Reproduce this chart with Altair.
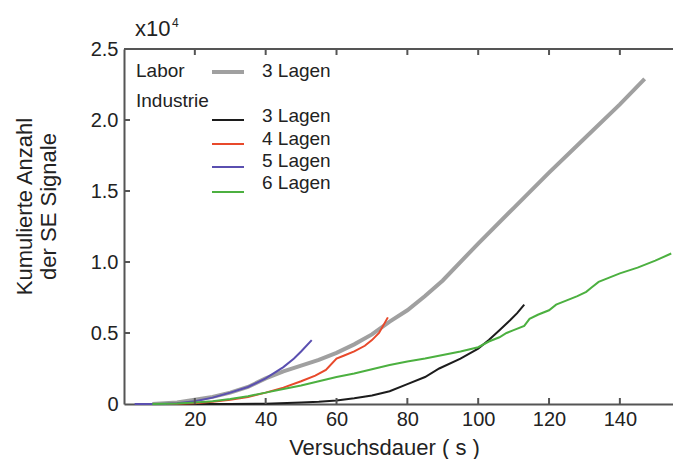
import altair as alt
import pandas as pd

# ---- data (values in units of 10^4) ----
labor3_x = [8, 15, 20, 25, 30, 35, 40, 45, 50, 55, 60, 65, 70, 75, 80, 85, 90, 100, 110, 120, 130, 140, 147]
labor3_y = [0, 0.01, 0.03, 0.05, 0.08, 0.12, 0.18, 0.23, 0.27, 0.31, 0.36, 0.42, 0.49, 0.58, 0.66, 0.76, 0.87, 1.13, 1.38, 1.63, 1.87, 2.11, 2.29]

ind3_x = [12, 20, 30, 40, 50, 55, 60, 65, 70, 75, 80, 85, 89, 95, 100, 103, 106, 109, 111, 113]
ind3_y = [0, 0, 0, 0.002, 0.01, 0.015, 0.025, 0.04, 0.06, 0.09, 0.14, 0.19, 0.25, 0.32, 0.39, 0.45, 0.52, 0.59, 0.64, 0.70]

ind4_x = [12, 20, 25, 30, 35, 40, 45, 50, 54, 57, 60, 62, 65, 68, 70, 72, 74.5]
ind4_y = [0, 0.005, 0.015, 0.03, 0.05, 0.08, 0.115, 0.16, 0.2, 0.24, 0.32, 0.34, 0.37, 0.41, 0.45, 0.5, 0.61]

ind5_x = [3, 10, 15, 20, 25, 30, 35, 40, 45, 48, 50, 53]
ind5_y = [0, 0, 0.005, 0.02, 0.045, 0.08, 0.12, 0.18, 0.26, 0.32, 0.37, 0.45]

ind6_x = [8, 15, 20, 25, 30, 35, 40, 45, 50, 55, 60, 65, 70, 75, 80, 85, 90, 95, 100, 103, 106, 108, 110, 113,
          114.5, 117, 120, 122, 125, 128, 130.5, 132, 134, 137, 140, 145, 150, 154.5]
ind6_y = [0, 0.003, 0.01, 0.02, 0.035, 0.055, 0.08, 0.105, 0.13, 0.16, 0.19, 0.215, 0.245, 0.275, 0.30, 0.32, 0.345,
          0.37, 0.40, 0.44, 0.47, 0.50, 0.52, 0.55, 0.60, 0.63, 0.66, 0.70, 0.73, 0.76, 0.79, 0.82, 0.86, 0.89, 0.92,
          0.96, 1.01, 1.06]

series_names = ["Labor 3 Lagen", "Industrie 3 Lagen", "Industrie 4 Lagen", "Industrie 5 Lagen", "Industrie 6 Lagen"]
series_colors = ["#a0a0a0", "#1c1c1c", "#e8492b", "#5a4fb0", "#4cb040"]

x_ticks = [20, 40, 60, 80, 100, 120, 140]
y_ticks = [0, 0.5, 1.0, 1.5, 2.0, 2.5]
y_inner_ticks = [0.5, 1.0, 1.5, 2.0]

legend_labels = ["3 Lagen", "3 Lagen", "4 Lagen", "5 Lagen", "6 Lagen"]

FONT = "Liberation Sans"
W, H = 549, 355
AX = "#555555"
TXT = "#222222"

rows = []
for name, xs, ys in zip(series_names,
                        [labor3_x, ind3_x, ind4_x, ind5_x, ind6_x],
                        [labor3_y, ind3_y, ind4_y, ind5_y, ind6_y]):
    for i, (a, b) in enumerate(zip(xs, ys)):
        rows.append({"series": name, "t": a, "n": b, "o": i})
df = pd.DataFrame(rows)

xscale = alt.Scale(domain=[0, 155], nice=False, zero=False)
yscale = alt.Scale(domain=[0, 2.5], nice=False)
cscale = alt.Scale(domain=series_names, range=series_colors)

x_axis = alt.Axis(values=x_ticks, title="Versuchsdauer ( s )", labelFont=FONT, labelFontSize=20,
                  labelColor=TXT, titleFont=FONT, titleFontSize=22, titleFontWeight="normal",
                  titleColor=TXT, tickSize=0, labelPadding=5, titlePadding=8, titleX=260, grid=False,
                  domainColor=AX, domainWidth=2)
y_axis = alt.Axis(values=y_ticks, title=["Kumulierte Anzahl", "der SE Signale"],
                  labelExpr="datum.value == 0 ? '0' : format(datum.value, '.1f')",
                  labelFont=FONT, labelFontSize=20, labelColor=TXT, titleFont=FONT, titleFontSize=22,
                  titleFontWeight="normal", titleColor=TXT, tickSize=0, labelPadding=6, titlePadding=30,
                  titleLineHeight=24, titleY=157, grid=False, domainColor=AX, domainWidth=2)

X = alt.X("t:Q", scale=xscale, axis=x_axis)
Y = alt.Y("n:Q", scale=yscale, axis=y_axis)

gray = alt.Chart(df[df.series == series_names[0]]).mark_line(strokeWidth=4).encode(
    x=X, y=Y,
    color=alt.Color("series:N", scale=cscale, legend=None),
    order="o:Q",
)
others = alt.Chart(df[df.series != series_names[0]]).mark_line(strokeWidth=2).encode(
    x=X, y=Y,
    color=alt.Color("series:N", scale=cscale, legend=None),
    detail="series:N",
    order="o:Q",
)

xt = pd.DataFrame({"t": x_ticks})
yt = pd.DataFrame({"n": y_inner_ticks})
one = pd.DataFrame({"k": [0]})
bottom_ticks = alt.Chart(xt).mark_rule(color=AX, strokeWidth=2).encode(
    x=X, y=alt.value(H), y2=alt.value(H - 6))
top_ticks = alt.Chart(xt).mark_rule(color=AX, strokeWidth=2).encode(
    x=X, y=alt.value(0), y2=alt.value(6))
left_ticks = alt.Chart(yt).mark_rule(color=AX, strokeWidth=2).encode(
    y=Y, x=alt.value(0), x2=alt.value(6))
top_line = alt.Chart(one).mark_rule(color=AX, strokeWidth=2).encode(
    x=alt.value(0), x2=alt.value(W + 10), y=alt.value(0))

# exponent label
exp_base = alt.Chart(one).mark_text(text="x10", font=FONT, fontSize=22, align="left", baseline="middle",
                                    color=TXT).encode(x=alt.value(11), y=alt.value(-20))
exp_pow = alt.Chart(one).mark_text(text="4", font=FONT, fontSize=12, align="left", baseline="middle",
                                   color=TXT).encode(x=alt.value(48), y=alt.value(-26))

# legend
leg = []
txt = dict(font=FONT, fontSize=19, align="left", baseline="middle", color=TXT)
leg.append(alt.Chart(one).mark_text(text="Labor", **txt).encode(x=alt.value(12), y=alt.value(22)))
leg.append(alt.Chart(one).mark_text(text="Industrie", **txt).encode(x=alt.value(12), y=alt.value(52)))
line_y = [23, 71, 95, 118, 143]
text_y = [22, 67, 90, 112, 134]
for i, name in enumerate(series_names):
    sw = 4 if i == 0 else 2
    leg.append(alt.Chart(one).mark_rule(color=series_colors[i], strokeWidth=sw).encode(
        x=alt.value(88), x2=alt.value(120), y=alt.value(line_y[i])))
    leg.append(alt.Chart(one).mark_text(text=legend_labels[i], **txt).encode(
        x=alt.value(138), y=alt.value(text_y[i])))

chart = alt.layer(gray, others, bottom_ticks, top_ticks, left_ticks, top_line, exp_base, exp_pow, *leg).properties(
    width=W, height=H,
    autosize=alt.AutoSizeParams(type="none"),
    padding={"left": 116, "top": 41, "right": 0, "bottom": 60},
).configure_view(stroke=None)

chart.save("out.html", embed_options={"renderer": "svg", "actions": False})
